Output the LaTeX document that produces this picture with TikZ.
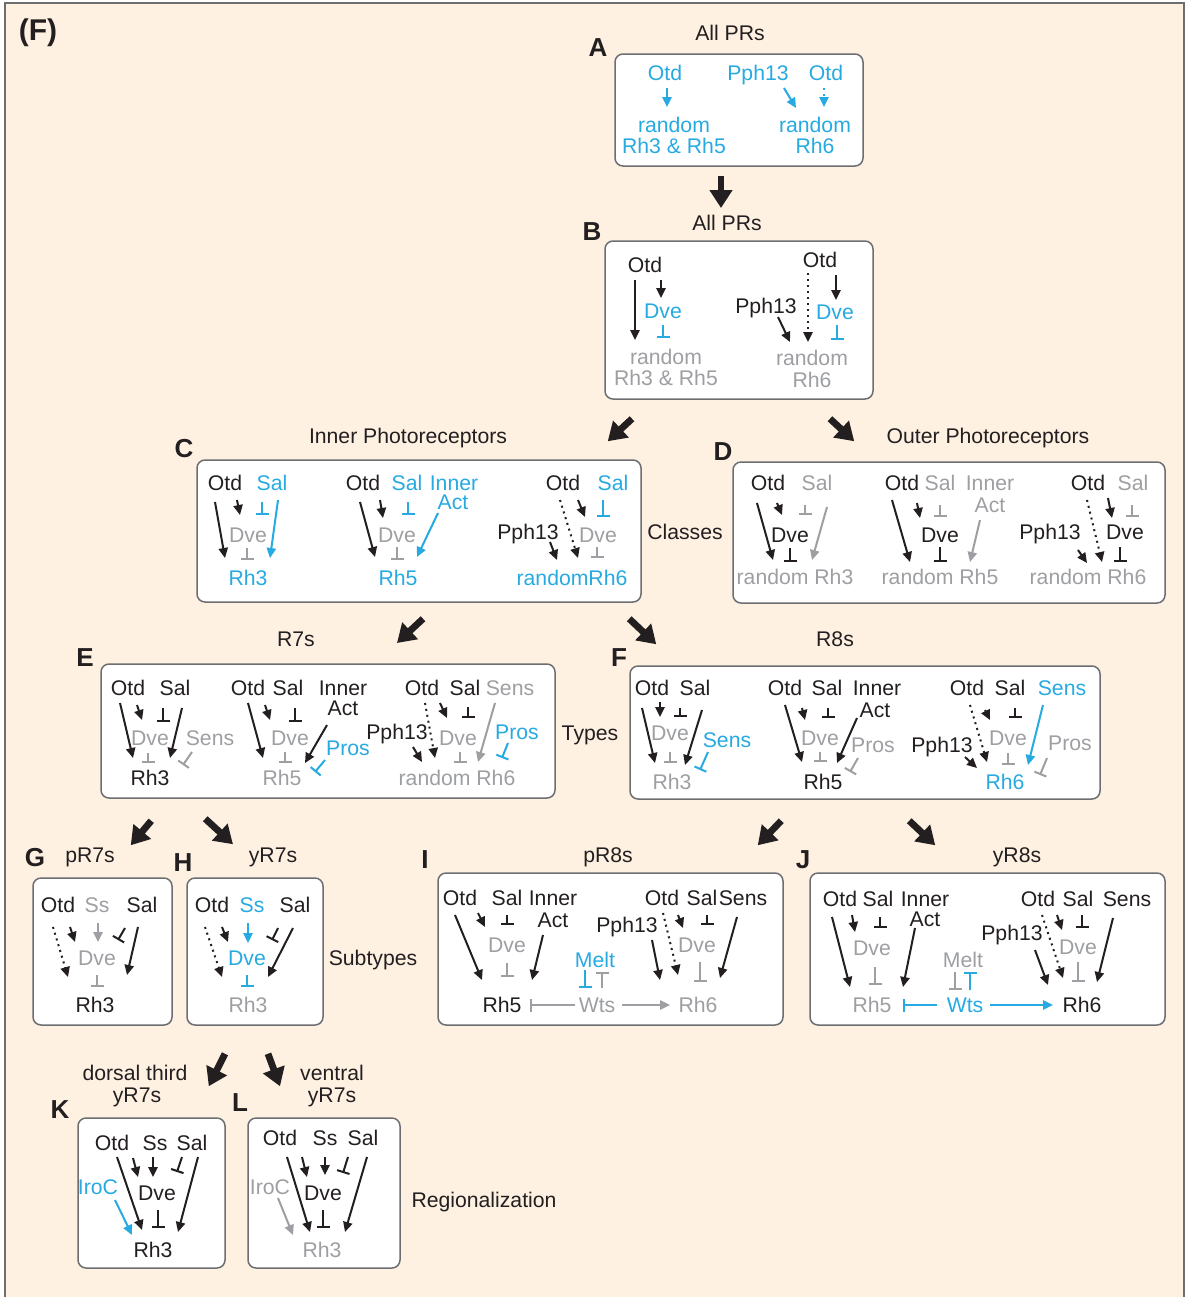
\documentclass[tikz,border=0pt]{standalone}
\usepackage{fontspec}
\setmainfont{Liberation Sans}
\usetikzlibrary{arrows.meta,fit}

\definecolor{ink}{HTML}{231F20}
\definecolor{sky}{HTML}{27AAE1}
\definecolor{mute}{HTML}{9D9FA2}
\definecolor{rim}{HTML}{6D6E71}
\definecolor{cream}{HTML}{FEF1E2}
\newcommand\genefont{\fontsize{10.6}{12}\selectfont}
\newcommand\letterfont{\fontsize{13}{15}\selectfont\bfseries}

\begin{document}
\begin{tikzpicture}[x=0.5pt,y=-0.5pt,color=ink,
    gene/.style={font=\genefont,inner sep=0pt,text height=7.6pt,text depth=0pt},
    letter/.style={font=\letterfont,inner sep=0pt},
    panel/.style={draw=rim,fill=white,rounded corners=4pt,line width=0.75pt,inner sep=0pt},
    act/.style={-{Triangle[length=5pt,width=4.6pt]},line width=1pt},
    dact/.style={act,dotted},
    inh/.style={-{Bar[width=6.5pt]},line width=1pt},
    big/.style={-{Triangle[length=9pt,width=11pt]},line width=3.4pt}]

    \useasboundingbox (0,0) rectangle (1186,1297);
    \fill[cream] (5,3) rectangle (1184,1297);
    \draw[rim,line width=0.8pt] (5,1297) -- (5,3) -- (1184,3) -- (1184,1297);
    \node[font=\fontsize{15}{17}\selectfont\bfseries,inner sep=0pt] (fig) at (38,33) {(F)};

    % A: all PRs
    \node[letter] (labA) at (598,48) {A};
    \node[gene] (ttlA) at (730,33) {All PRs};
    \node[panel,fit={(615,54) (863,166)}] (boxA) {};
    \node[gene,sky] (otdA1) at (665,73) {Otd};
    \node[gene,sky] (ranA1) at (674,125) {random};
    \node[gene,sky] (rhA1) at (674,146) {Rh3 \& Rh5};
    \node[gene,sky] (pphA) at (758,73) {Pph13};
    \node[gene,sky] (otdA2) at (826,73) {Otd};
    \node[gene,sky] (ranA2) at (815,125) {random};
    \node[gene,sky] (rhA2) at (815,146) {Rh6};
    \draw[act,sky] ([shift={(2,15)}]otdA1.center) -- ([shift={(-7,-18)}]ranA1.center);
    \draw[act,sky] ([shift={(26,15)}]pphA.center) -- ([shift={(-19,-17)}]ranA2.center);
    \draw[dact,sky] ([shift={(-2,15)}]otdA2.center) -- ([shift={(9,-18)}]ranA2.center);

    % B: all PRs with Dve
    \node[letter] (labB) at (592,232) {B};
    \node[gene] (ttlB) at (727,223) {All PRs};
    \node[panel,fit={(605,241) (873,399)}] (boxB) {};
    \node[gene] (otdB1) at (645,265) {Otd};
    \node[gene,sky] (dveB1) at (663,311) {Dve};
    \node[gene,mute] (ranB1) at (666,357) {random};
    \node[gene,mute] (rhB1) at (666,378) {Rh3 \& Rh5};
    \node[gene] (otdB2) at (820,260) {Otd};
    \node[gene] (pphB) at (766,306) {Pph13};
    \node[gene,sky] (dveB2) at (835,312) {Dve};
    \node[gene,mute] (ranB2) at (812,358) {random};
    \node[gene,mute] (rhB2) at (812,380) {Rh6};
    \draw[act] ([shift={(-10,15)}]otdB1.center) -- ([shift={(-31,-17)}]ranB1.center);
    \draw[act] ([shift={(16,15)}]otdB1.center) -- ([shift={(-2,-13)}]dveB1.center);
    \draw[inh,sky] ([shift={(0,14)}]dveB1.center) -- ([shift={(-3,-19)}]ranB1.center);
    \draw[dact] ([shift={(-12,13)}]otdB2.center) -- ([shift={(-4,-16)}]ranB2.center);
    \draw[act] ([shift={(16,15)}]otdB2.center) -- ([shift={(1,-12)}]dveB2.center);
    \draw[act] ([shift={(12,11)}]pphB.center) -- ([shift={(-22,-16)}]ranB2.center);
    \draw[inh,sky] ([shift={(2,13)}]dveB2.center) -- ([shift={(25,-18)}]ranB2.center);

    % C: inner photoreceptors
    \node[letter] (labC) at (184,449) {C};
    \node[gene] (ttlC) at (408,436) {Inner Photoreceptors};
    \node[panel,fit={(197,460) (641,602)}] (boxC) {};
    \node[gene] (otdC1) at (225,483) {Otd};
    \node[gene,sky] (salC1) at (272,483) {Sal};
    \node[gene,mute] (dveC1) at (248,535) {Dve};
    \node[gene,sky] (rhC1) at (248,578) {Rh3};
    \draw[act] ([shift={(-10,19)}]otdC1.center) -- ([shift={(-23,-20)}]rhC1.center);
    \draw[act] ([shift={(12,17)}]otdC1.center) -- ([shift={(-8,-20)}]dveC1.center);
    \draw[inh,sky] ([shift={(-10,19)}]salC1.center) -- ([shift={(14,-20)}]dveC1.center);
    \draw[act,sky] ([shift={(6,17)}]salC1.center) -- ([shift={(22,-20)}]rhC1.center);
    \draw[inh,mute] ([shift={(-1,13)}]dveC1.center) -- ([shift={(-1,-18)}]rhC1.center);
    \node[gene] (otdC2) at (363,483) {Otd};
    \node[gene,sky] (salC2) at (407,483) {Sal};
    \node[gene,sky] (innC2) at (454,483) {Inner};
    \node[gene,sky] (actC2) at (453,502) {Act};
    \node[gene,mute] (dveC2) at (397,535) {Dve};
    \node[gene,sky] (rhC2) at (398,578) {Rh5};
    \draw[act] ([shift={(-3,19)}]otdC2.center) -- ([shift={(-23,-21)}]rhC2.center);
    \draw[act] ([shift={(17,17)}]otdC2.center) -- ([shift={(-14,-17)}]dveC2.center);
    \draw[inh,sky] ([shift={(1,19)}]salC2.center) -- ([shift={(11,-20)}]dveC2.center);
    \draw[act,sky] ([shift={(-15,11)}]actC2.center) -- ([shift={(19,-21)}]rhC2.center);
    \draw[inh,mute] ([shift={(0,12)}]dveC2.center) -- ([shift={(-1,-18)}]rhC2.center);
    \node[gene] (otdC3) at (563,483) {Otd};
    \node[gene,sky] (salC3) at (613,483) {Sal};
    \node[gene] (pphC3) at (528,532) {Pph13};
    \node[gene,mute] (dveC3) at (598,535) {Dve};
    \node[gene,sky] (rhC3) at (572,578) {randomRh6};
    \draw[dact] ([shift={(-3,17)}]otdC3.center) -- ([shift={(6,-20)}]rhC3.center);
    \draw[act] ([shift={(15,17)}]otdC3.center) -- ([shift={(-13,-18)}]dveC3.center);
    \draw[inh,sky] ([shift={(-10,17)}]salC3.center) -- ([shift={(5,-18)}]dveC3.center);
    \draw[act] ([shift={(22,10)}]pphC3.center) -- ([shift={(-15,-18)}]rhC3.center);
    \draw[inh,mute] ([shift={(-1,12)}]dveC3.center) -- ([shift={(25,-20)}]rhC3.center);
    \node[gene] (classes) at (685,532) {Classes};

    % D: outer photoreceptors
    \node[letter] (labD) at (723,452) {D};
    \node[gene] (ttlD) at (988,436) {Outer Photoreceptors};
    \node[panel,fit={(733,462) (1165,603)}] (boxD) {};
    \node[gene] (otdD1) at (768,483) {Otd};
    \node[gene,mute] (salD1) at (817,483) {Sal};
    \node[gene] (dveD1) at (790,535) {Dve};
    \node[gene,mute] (rhD1) at (795,577) {random Rh3};
    \draw[act] ([shift={(-11,20)}]otdD1.center) -- ([shift={(-22,-17)}]rhD1.center);
    \draw[act] ([shift={(9,20)}]otdD1.center) -- ([shift={(-8,-20)}]dveD1.center);
    \draw[inh,mute] ([shift={(-12,22)}]salD1.center) -- ([shift={(15,-20)}]dveD1.center);
    \draw[act,mute] ([shift={(10,24)}]salD1.center) -- ([shift={(17,-17)}]rhD1.center);
    \draw[inh] ([shift={(0,13)}]dveD1.center) -- ([shift={(-5,-15)}]rhD1.center);
    \node[gene] (otdD2) at (902,483) {Otd};
    \node[gene,mute] (salD2) at (940,483) {Sal};
    \node[gene,mute] (innD2) at (990,483) {Inner};
    \node[gene,mute] (actD2) at (990,505) {Act};
    \node[gene] (dveD2) at (940,535) {Dve};
    \node[gene,mute] (rhD2) at (940,577) {random Rh5};
    \draw[act] ([shift={(-10,17)}]otdD2.center) -- ([shift={(-30,-15)}]rhD2.center);
    \draw[act] ([shift={(15,20)}]otdD2.center) -- ([shift={(-20,-17)}]dveD2.center);
    \draw[inh,mute] ([shift={(0,22)}]salD2.center) -- ([shift={(0,-18)}]dveD2.center);
    \draw[act,mute] ([shift={(-10,15)}]actD2.center) -- ([shift={(30,-15)}]rhD2.center);
    \draw[inh] ([shift={(0,12)}]dveD2.center) -- ([shift={(0,-15)}]rhD2.center);
    \node[gene] (otdD3) at (1088,483) {Otd};
    \node[gene,mute] (salD3) at (1133,483) {Sal};
    \node[gene] (pphD3) at (1050,532) {Pph13};
    \node[gene] (dveD3) at (1125,532) {Dve};
    \node[gene,mute] (rhD3) at (1088,577) {random Rh6};
    \draw[dact] ([shift={(-1,17)}]otdD3.center) -- ([shift={(14,-15)}]rhD3.center);
    \draw[act] ([shift={(20,15)}]otdD3.center) -- ([shift={(-13,-14)}]dveD3.center);
    \draw[inh,mute] ([shift={(-1,22)}]salD3.center) -- ([shift={(7,-15)}]dveD3.center);
    \draw[act] ([shift={(28,18)}]pphD3.center) -- ([shift={(-1,-14)}]rhD3.center);
    \draw[inh] ([shift={(-5,15)}]dveD3.center) -- ([shift={(32,-15)}]rhD3.center);

    % E: R7s
    \node[letter] (labE) at (85,658) {E};
    \node[gene] (ttlE) at (296,639) {R7s};
    \node[panel,fit={(101,664) (555,798)}] (boxE) {};
    \node[gene] (otdE1) at (128,688) {Otd};
    \node[gene] (salE1) at (175,688) {Sal};
    \node[gene,mute] (dveE1) at (150,738) {Dve};
    \node[gene,mute] (sensE1) at (210,738) {Sens};
    \node[gene] (rhE1) at (150,778) {Rh3};
    \draw[act] ([shift={(-8,15)}]otdE1.center) -- ([shift={(-17,-20)}]rhE1.center);
    \draw[act] ([shift={(9,17)}]otdE1.center) -- ([shift={(-8,-18)}]dveE1.center);
    \draw[inh] ([shift={(-12,20)}]salE1.center) -- ([shift={(13,-16)}]dveE1.center);
    \draw[act] ([shift={(7,20)}]salE1.center) -- ([shift={(20,-20)}]rhE1.center);
    \draw[inh,mute] ([shift={(-2,15)}]dveE1.center) -- ([shift={(-2,-15)}]rhE1.center);
    \draw[inh,mute] ([shift={(-18,14)}]sensE1.center) -- ([shift={(33,-13)}]rhE1.center);
    \node[gene] (otdE2) at (248,688) {Otd};
    \node[gene] (salE2) at (288,688) {Sal};
    \node[gene] (innE2) at (343,688) {Inner};
    \node[gene] (actE2) at (343,708) {Act};
    \node[gene,mute] (dveE2) at (290,738) {Dve};
    \node[gene,sky] (prosE2) at (348,748) {Pros};
    \node[gene,mute] (rhE2) at (282,778) {Rh5};
    \draw[act] ([shift={(0,15)}]otdE2.center) -- ([shift={(-19,-20)}]rhE2.center);
    \draw[act] ([shift={(17,17)}]otdE2.center) -- ([shift={(-20,-18)}]dveE2.center);
    \draw[inh] ([shift={(7,20)}]salE2.center) -- ([shift={(5,-16)}]dveE2.center);
    \draw[act] ([shift={(-16,17)}]actE2.center) -- ([shift={(23,-15)}]rhE2.center);
    \draw[inh,mute] ([shift={(-5,14)}]dveE2.center) -- ([shift={(3,-15)}]rhE2.center);
    \draw[inh,sky] ([shift={(-23,12)}]prosE2.center) -- ([shift={(33,-6)}]rhE2.center);
    \node[gene] (otdE3) at (422,688) {Otd};
    \node[gene] (salE3) at (465,688) {Sal};
    \node[gene,mute] (sensE3) at (510,688) {Sens};
    \node[gene] (pphE3) at (397,732) {Pph13};
    \node[gene,mute] (dveE3) at (458,738) {Dve};
    \node[gene,sky] (prosE3) at (517,732) {Pros};
    \node[gene,mute] (rhE3) at (457,778) {random Rh6};
    \draw[dact] ([shift={(3,15)}]otdE3.center) -- ([shift={(-22,-20)}]rhE3.center);
    \draw[act] ([shift={(18,15)}]otdE3.center) -- ([shift={(-11,-20)}]dveE3.center);
    \draw[inh] ([shift={(3,19)}]salE3.center) -- ([shift={(10,-20)}]dveE3.center);
    \draw[act,mute] ([shift={(-15,15)}]sensE3.center) -- ([shift={(21,-16)}]rhE3.center);
    \draw[inh,sky] ([shift={(-9,11)}]prosE3.center) -- ([shift={(45,-20)}]rhE3.center);
    \draw[act] ([shift={(16,15)}]pphE3.center) -- ([shift={(-35,-16)}]rhE3.center);
    \draw[inh,mute] ([shift={(2,14)}]dveE3.center) -- ([shift={(3,-15)}]rhE3.center);
    \node[gene] (types) at (590,733) {Types};

    % F: R8s
    \node[letter] (labF) at (619,658) {F};
    \node[gene] (ttlF) at (835,639) {R8s};
    \node[panel,fit={(630,666) (1100,799)}] (boxF) {};
    \node[gene] (otdF1) at (652,688) {Otd};
    \node[gene] (salF1) at (695,688) {Sal};
    \node[gene,mute] (dveF1) at (670,733) {Dve};
    \node[gene,sky] (sensF1) at (727,740) {Sens};
    \node[gene,mute] (rhF1) at (672,782) {Rh3};
    \draw[act] ([shift={(-10,20)}]otdF1.center) -- ([shift={(-17,-19)}]rhF1.center);
    \draw[act] ([shift={(8,14)}]otdF1.center) -- ([shift={(-10,-16)}]dveF1.center);
    \draw[inh] ([shift={(-15,20)}]salF1.center) -- ([shift={(10,-16)}]dveF1.center);
    \draw[act] ([shift={(7,22)}]salF1.center) -- ([shift={(13,-17)}]rhF1.center);
    \draw[inh,mute] ([shift={(0,19)}]dveF1.center) -- ([shift={(-2,-19)}]rhF1.center);
    \draw[inh,sky] ([shift={(-19,12)}]sensF1.center) -- ([shift={(28,-12)}]rhF1.center);
    \node[gene] (otdF2) at (785,688) {Otd};
    \node[gene] (salF2) at (827,688) {Sal};
    \node[gene] (innF2) at (877,688) {Inner};
    \node[gene] (actF2) at (875,710) {Act};
    \node[gene,mute] (dveF2) at (820,738) {Dve};
    \node[gene,mute] (prosF2) at (873,745) {Pros};
    \node[gene] (rhF2) at (823,782) {Rh5};
    \draw[act] ([shift={(0,17)}]otdF2.center) -- ([shift={(-21,-20)}]rhF2.center);
    \draw[act] ([shift={(17,20)}]otdF2.center) -- ([shift={(-15,-18)}]dveF2.center);
    \draw[inh] ([shift={(1,20)}]salF2.center) -- ([shift={(8,-20)}]dveF2.center);
    \draw[act] ([shift={(-18,8)}]actF2.center) -- ([shift={(14,-19)}]rhF2.center);
    \draw[inh,mute] ([shift={(0,14)}]dveF2.center) -- ([shift={(-3,-20)}]rhF2.center);
    \draw[inh,mute] ([shift={(-15,13)}]prosF2.center) -- ([shift={(27,-10)}]rhF2.center);
    \node[gene] (otdF3) at (967,688) {Otd};
    \node[gene] (salF3) at (1010,688) {Sal};
    \node[gene,sky] (sensF3) at (1062,688) {Sens};
    \node[gene] (pphF3) at (942,745) {Pph13};
    \node[gene,mute] (dveF3) at (1008,738) {Dve};
    \node[gene,mute] (prosF3) at (1070,743) {Pros};
    \node[gene,sky] (rhF3) at (1005,782) {Rh6};
    \draw[dact] ([shift={(3,17)}]otdF3.center) -- ([shift={(-18,-20)}]rhF3.center);
    \draw[act] ([shift={(18,22)}]otdF3.center) -- ([shift={(-18,-18)}]dveF3.center);
    \draw[inh] ([shift={(5,20)}]salF3.center) -- ([shift={(7,-20)}]dveF3.center);
    \draw[act,sky] ([shift={(-19,17)}]sensF3.center) -- ([shift={(23,-17)}]rhF3.center);
    \draw[inh,mute] ([shift={(0,15)}]dveF3.center) -- ([shift={(3,-17)}]rhF3.center);
    \draw[inh,mute] ([shift={(-23,15)}]prosF3.center) -- ([shift={(35,-7)}]rhF3.center);
    \draw[act] ([shift={(23,12)}]pphF3.center) -- ([shift={(-28,-14)}]rhF3.center);

    % G, H: pR7s and yR7s
    \node[letter] (labG) at (35,858) {G};
    \node[gene] (ttlG) at (90,855) {pR7s};
    \node[panel,fit={(33,878) (172,1025)}] (boxG) {};
    \node[gene] (otdG) at (58,905) {Otd};
    \node[gene,mute] (ssG) at (97,905) {Ss};
    \node[gene] (salG) at (142,905) {Sal};
    \node[gene,mute] (dveG) at (97,958) {Dve};
    \node[gene] (rhG) at (95,1005) {Rh3};
    \draw[dact] ([shift={(-5,22)}]otdG.center) -- ([shift={(-27,-28)}]rhG.center);
    \draw[act] ([shift={(12,22)}]otdG.center) -- ([shift={(-22,-16)}]dveG.center);
    \draw[act,mute] ([shift={(1,18)}]ssG.center) -- ([shift={(1,-16)}]dveG.center);
    \draw[inh] ([shift={(-17,23)}]salG.center) -- ([shift={(21,-18)}]dveG.center);
    \draw[act] ([shift={(-4,22)}]salG.center) -- ([shift={(32,-30)}]rhG.center);
    \draw[inh,mute] ([shift={(0,17)}]dveG.center) -- ([shift={(2,-18)}]rhG.center);
    \node[letter] (labH) at (183,863) {H};
    \node[gene] (ttlH) at (273,855) {yR7s};
    \node[panel,fit={(187,878) (323,1025)}] (boxH) {};
    \node[gene] (otdH) at (212,905) {Otd};
    \node[gene,sky] (ssH) at (252,905) {Ss};
    \node[gene] (salH) at (295,905) {Sal};
    \node[gene,sky] (dveH) at (247,958) {Dve};
    \node[gene,mute] (rhH) at (248,1005) {Rh3};
    \draw[dact] ([shift={(-7,22)}]otdH.center) -- ([shift={(-26,-28)}]rhH.center);
    \draw[act] ([shift={(10,22)}]otdH.center) -- ([shift={(-19,-16)}]dveH.center);
    \draw[act,sky] ([shift={(-4,18)}]ssH.center) -- ([shift={(1,-15)}]dveH.center);
    \draw[inh] ([shift={(-17,23)}]salH.center) -- ([shift={(25,-18)}]dveH.center);
    \draw[act] ([shift={(-2,23)}]salH.center) -- ([shift={(20,-28)}]rhH.center);
    \draw[inh,sky] ([shift={(0,17)}]dveH.center) -- ([shift={(-1,-18)}]rhH.center);
    \node[gene] (subtypes) at (373,958) {Subtypes};

    % I: pR8s
    \node[letter] (labI) at (425,860) {I};
    \node[gene] (ttlI) at (608,855) {pR8s};
    \node[panel,fit={(438,873) (783,1025)}] (boxI) {};
    \node[gene] (otdI1) at (460,898) {Otd};
    \node[gene] (salI1) at (507,898) {Sal};
    \node[gene] (innI) at (553,898) {Inner};
    \node[gene] (actI) at (553,920) {Act};
    \node[gene,mute] (dveI1) at (507,945) {Dve};
    \node[gene,sky] (meltI) at (595,960) {Melt};
    \node[gene] (rh5I) at (502,1005) {Rh5};
    \node[gene,mute] (wtsI) at (597,1005) {Wts};
    \node[gene,mute] (rh6I) at (698,1005) {Rh6};
    \node[gene] (otdI2) at (662,898) {Otd};
    \node[gene] (salI2) at (702,898) {Sal};
    \node[gene] (sensI) at (743,898) {Sens};
    \node[gene] (pphI) at (627,925) {Pph13};
    \node[gene,mute] (dveI2) at (697,945) {Dve};
    \draw[act] ([shift={(-5,17)}]otdI1.center) -- ([shift={(-20,-25)}]rh5I.center);
    \draw[act] ([shift={(18,15)}]otdI1.center) -- ([shift={(-22,-18)}]dveI1.center);
    \draw[inh] ([shift={(0,17)}]salI1.center) -- ([shift={(0,-20)}]dveI1.center);
    \draw[act] ([shift={(-10,15)}]actI.center) -- ([shift={(30,-25)}]rh5I.center);
    \draw[inh,mute] ([shift={(0,18)}]dveI1.center) -- ([shift={(5,-28)}]rh5I.center);
    \draw[inh,sky] ([shift={(-10,10)}]meltI.center) -- ([shift={(-12,-17)}]wtsI.center);
    \draw[inh,mute] ([shift={(5,-17)}]wtsI.center) -- ([shift={(7,12)}]meltI.center);
    \draw[inh,mute] ([shift={(-22,0)}]wtsI.center) -- ([shift={(28,0)}]rh5I.center);
    \draw[act,mute] ([shift={(25,0)}]wtsI.center) -- ([shift={(-28,0)}]rh6I.center);
    \draw[dact] ([shift={(1,15)}]otdI2.center) -- ([shift={(-20,-30)}]rh6I.center);
    \draw[act] ([shift={(16,17)}]otdI2.center) -- ([shift={(-14,-17)}]dveI2.center);
    \draw[inh] ([shift={(5,17)}]salI2.center) -- ([shift={(10,-20)}]dveI2.center);
    \draw[act] ([shift={(-6,19)}]sensI.center) -- ([shift={(22,-27)}]rh6I.center);
    \draw[act] ([shift={(25,15)}]pphI.center) -- ([shift={(-38,-25)}]rh6I.center);
    \draw[inh,mute] ([shift={(3,17)}]dveI2.center) -- ([shift={(2,-23)}]rh6I.center);

    % J: yR8s
    \node[letter] (labJ) at (803,860) {J};
    \node[gene] (ttlJ) at (1017,855) {yR8s};
    \node[panel,fit={(810,873) (1165,1025)}] (boxJ) {};
    \node[gene] (otdJ1) at (840,899) {Otd};
    \node[gene] (salJ1) at (878,899) {Sal};
    \node[gene] (innJ) at (925,899) {Inner};
    \node[gene] (actJ) at (925,919) {Act};
    \node[gene,mute] (dveJ1) at (872,948) {Dve};
    \node[gene,mute] (meltJ) at (963,960) {Melt};
    \node[gene,mute] (rh5J) at (872,1005) {Rh5};
    \node[gene,sky] (wtsJ) at (965,1005) {Wts};
    \node[gene] (rh6J) at (1082,1005) {Rh6};
    \node[gene] (otdJ2) at (1038,899) {Otd};
    \node[gene] (salJ2) at (1078,899) {Sal};
    \node[gene] (sensJ) at (1127,899) {Sens};
    \node[gene] (pphJ) at (1012,933) {Pph13};
    \node[gene,mute] (dveJ2) at (1078,947) {Dve};
    \draw[act] ([shift={(-8,18)}]otdJ1.center) -- ([shift={(-22,-18)}]rh5J.center);
    \draw[act] ([shift={(12,16)}]otdJ1.center) -- ([shift={(-17,-16)}]dveJ1.center);
    \draw[inh] ([shift={(2,18)}]salJ1.center) -- ([shift={(8,-20)}]dveJ1.center);
    \draw[act] ([shift={(-10,9)}]actJ.center) -- ([shift={(31,-18)}]rh5J.center);
    \draw[inh,mute] ([shift={(3,19)}]dveJ1.center) -- ([shift={(3,-20)}]rh5J.center);
    \draw[inh,mute] ([shift={(-8,12)}]meltJ.center) -- ([shift={(-10,-15)}]wtsJ.center);
    \draw[inh,sky] ([shift={(5,-15)}]wtsJ.center) -- ([shift={(7,12)}]meltJ.center);
    \draw[inh,sky] ([shift={(-28,0)}]wtsJ.center) -- ([shift={(31,0)}]rh5J.center);
    \draw[act,sky] ([shift={(25,0)}]wtsJ.center) -- ([shift={(-29,0)}]rh6J.center);
    \draw[dact] ([shift={(4,16)}]otdJ2.center) -- ([shift={(-19,-27)}]rh6J.center);
    \draw[act] ([shift={(19,16)}]otdJ2.center) -- ([shift={(-16,-17)}]dveJ2.center);
    \draw[inh] ([shift={(4,16)}]salJ2.center) -- ([shift={(4,-19)}]dveJ2.center);
    \draw[act] ([shift={(-14,19)}]sensJ.center) -- ([shift={(15,-23)}]rh6J.center);
    \draw[act] ([shift={(23,17)}]pphJ.center) -- ([shift={(-34,-20)}]rh6J.center);
    \draw[inh,mute] ([shift={(0,15)}]dveJ2.center) -- ([shift={(-4,-23)}]rh6J.center);

    % K, L: regionalization of yR7s
    \node[letter] (labK) at (60,1110) {K};
    \node[gene] (ttlK1) at (135,1073) {dorsal third};
    \node[gene] (ttlK2) at (137,1095) {yR7s};
    \node[panel,fit={(78,1118) (225,1268)}] (boxK) {};
    \node[gene] (otdK) at (112,1143) {Otd};
    \node[gene] (ssK) at (155,1143) {Ss};
    \node[gene] (salK) at (192,1143) {Sal};
    \node[gene,sky] (irocK) at (98,1187) {IroC};
    \node[gene] (dveK) at (157,1193) {Dve};
    \node[gene] (rhK) at (153,1250) {Rh3};
    \draw[act] ([shift={(5,14)}]otdK.center) -- ([shift={(-11,-20)}]rhK.center);
    \draw[act] ([shift={(21,15)}]otdK.center) -- ([shift={(-19,-16)}]dveK.center);
    \draw[act] ([shift={(-2,14)}]ssK.center) -- ([shift={(-4,-16)}]dveK.center);
    \draw[inh] ([shift={(-10,14)}]salK.center) -- ([shift={(20,-21)}]dveK.center);
    \draw[act] ([shift={(6,14)}]salK.center) -- ([shift={(25,-18)}]rhK.center);
    \draw[inh] ([shift={(1,17)}]dveK.center) -- ([shift={(5,-22)}]rhK.center);
    \draw[act,sky] ([shift={(17,13)}]irocK.center) -- ([shift={(-21,-15)}]rhK.center);
    \node[letter] (labL) at (240,1103) {L};
    \node[gene] (ttlL1) at (332,1073) {ventral};
    \node[gene] (ttlL2) at (332,1095) {yR7s};
    \node[panel,fit={(248,1118) (400,1268)}] (boxL) {};
    \node[gene] (otdL) at (280,1138) {Otd};
    \node[gene] (ssL) at (325,1138) {Ss};
    \node[gene] (salL) at (363,1138) {Sal};
    \node[gene,mute] (irocL) at (270,1187) {IroC};
    \node[gene] (dveL) at (323,1193) {Dve};
    \node[gene,mute] (rhL) at (322,1250) {Rh3};
    \draw[act] ([shift={(7,19)}]otdL.center) -- ([shift={(-12,-18)}]rhL.center);
    \draw[act] ([shift={(22,19)}]otdL.center) -- ([shift={(-16,-16)}]dveL.center);
    \draw[act] ([shift={(0,19)}]ssL.center) -- ([shift={(2,-18)}]dveL.center);
    \draw[inh] ([shift={(-15,19)}]salL.center) -- ([shift={(20,-20)}]dveL.center);
    \draw[act] ([shift={(4,19)}]salL.center) -- ([shift={(23,-18)}]rhL.center);
    \draw[inh] ([shift={(0,17)}]dveL.center) -- ([shift={(1,-22)}]rhL.center);
    \draw[act,mute] ([shift={(8,11)}]irocL.center) -- ([shift={(-29,-15)}]rhL.center);
    \node[gene] (region) at (484,1200) {Regionalization};

    % steps between panels
    \draw[big] ([shift={(-18,9)}]boxA.south) -- ([shift={(-6,-15)}]ttlB.center);
    \draw[big] ([shift={(-107,19)}]boxB.south) -- ([shift={(-34,-18)}]boxC.north east);
    \draw[big] ([shift={(91,19)}]boxB.south) -- ([shift={(122,-20)}]boxD.north west);
    \draw[big] ([shift={(4,16)}]boxC.south) -- ([shift={(101,4)}]ttlE.center);
    \draw[big] ([shift={(-103,15)}]boxD.south west) -- ([shift={(27,-21)}]boxF.north west);
    \draw[big] ([shift={(51,22)}]boxE.south west) -- ([shift={(-42,-32)}]boxG.north east);
    \draw[big] ([shift={(105,20)}]boxE.south west) -- ([shift={(-22,-33)}]boxH.north);
    \draw[big] ([shift={(152,21)}]boxF.south west) -- ([shift={(-26,-27)}]boxI.north east);
    \draw[big] ([shift={(280,21)}]boxF.south west) -- ([shift={(126,-27)}]boxJ.north west);
    \draw[big] ([shift={(-30,28)}]boxH.south) -- ([shift={(-17,-31)}]boxK.north east);
    \draw[big] ([shift={(13,28)}]boxH.south) -- ([shift={(-44,-31)}]boxL.north);

\end{tikzpicture}
\end{document}
